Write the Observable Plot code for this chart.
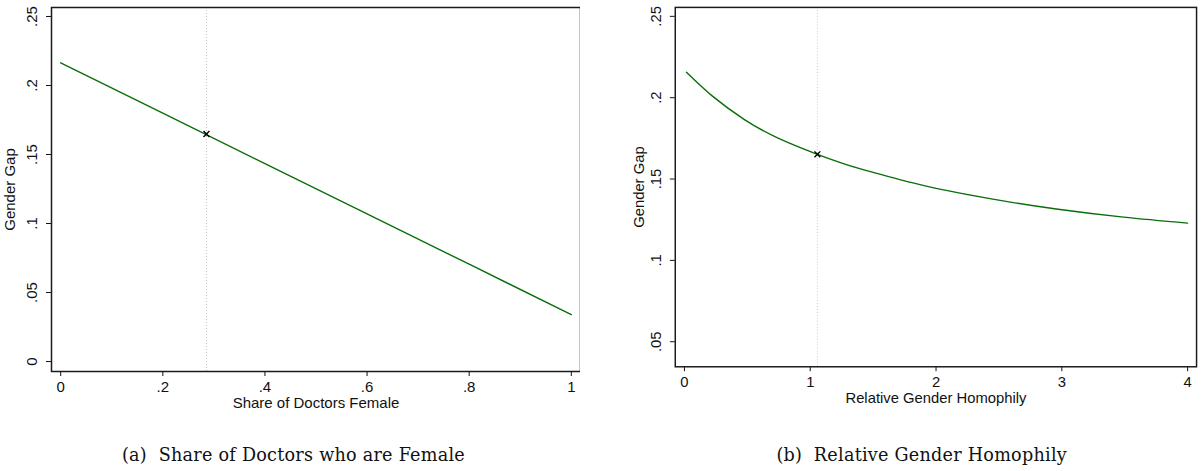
<!DOCTYPE html>
<html>
<head>
<meta charset="utf-8">
<script src="https://cdn.jsdelivr.net/npm/d3@7"></script>
<script src="https://cdn.jsdelivr.net/npm/@observablehq/plot@0.6"></script>
<style>
  html, body { margin: 0; padding: 0; background: #fff; }
  #wrap { position: relative; width: 1201px; height: 471px; overflow: hidden; background: #fff; }
  .panel { position: absolute; top: 0; }
  .cap { position: absolute; font-family: "DejaVu Serif", serif; font-size: 17.6px; line-height: 1; color: #111; white-space: pre; }
</style>
</head>
<body>
<div id="wrap">
  <div id="pa" class="panel" style="left:0px"></div>
  <div id="pb" class="panel" style="left:580px"></div>
  <span id="capA" class="cap">(a)  Share of Doctors who are Female</span>
  <span id="capB" class="cap">(b)  Relative Gender Homophily</span>
</div>
<script>
// ---- Panel (a): Share of doctors who are female ----
const shareX = [0, 0.2, 0.4, 0.6, 0.8, 1];
const gapA   = [0.2164, 0.1799, 0.1434, 0.1070, 0.0705, 0.0340];
const markA  = {x: 0.2855, y: 0.1648};
const xTicksA = [0, 0.2, 0.4, 0.6, 0.8, 1];
const yTicksA = [0, 0.05, 0.1, 0.15, 0.2, 0.25];
const xLabelA = "Share of Doctors Female";

// ---- Panel (b): Relative gender homophily ----
const homX = [0.016, 0.22, 0.48, 0.74, 1.057, 1.4, 1.79, 2.0, 2.44, 2.97, 3.49, 4.0];
const gapB = [0.2156, 0.2011, 0.1864, 0.1753, 0.1652, 0.1562, 0.1481, 0.1443, 0.1378, 0.1314, 0.1266, 0.1229];
const markB  = {x: 1.057, y: 0.1652};
const xTicksB = [0, 1, 2, 3, 4];
const yTicksB = [0.05, 0.1, 0.15, 0.2, 0.25];
const xLabelB = "Relative Gender Homophily";

const yLabel = "Gender Gap";
const lineColor = "#0a6e0a";

const fmt = d => d === 0 ? "0" : d3.format("~g")(d).replace(/^0\./, ".");

function panel(opts) {
  const rows = opts.xs.map((x, i) => ({x, y: opts.ys[i]}));
  return Plot.plot({
    width: opts.width, height: 415,
    marginLeft: opts.ml, marginRight: opts.mr, marginTop: 7, marginBottom: 44,
    x: {domain: opts.xd, label: null},
    y: {domain: opts.yd, label: null},
    style: {fontFamily: "'Liberation Sans', Arial, sans-serif", fontSize: "15px", background: "white", color: "#111", overflow: "visible"},
    marks: [
      Plot.ruleX([opts.mark.x], {stroke: "#c8c8c8", strokeWidth: 1, strokeDasharray: "1,2"}),
      Plot.line(rows, {x: "x", y: "y", stroke: lineColor, strokeWidth: 1.4, curve: opts.curve}),
      Plot.dot([opts.mark], {x: "x", y: "y", symbol: "times", r: 2.8, stroke: "#000", strokeWidth: 1.4}),
      Plot.axisX(opts.xt, {tickSize: 5, tickPadding: 5, tickFormat: fmt}),
      Plot.axisY(opts.yt, {tickSize: 5, tickFormat: () => ""}),
      Plot.text(opts.yt, {y: d => d, text: fmt, frameAnchor: "left", dx: -19, rotate: -90, textAnchor: "middle", lineAnchor: "middle"}),
      Plot.text([yLabel], {text: d => d, frameAnchor: "left", dx: opts.ylabDx, rotate: -90, textAnchor: "middle", lineAnchor: "middle"}),
      Plot.text([opts.xlab], {text: d => d, frameAnchor: "bottom", dy: 32, textAnchor: "middle", lineAnchor: "middle"}),
      Plot.frame({stroke: "#1a1a1a", strokeWidth: 1.5})
    ]
  });
}

document.getElementById("pa").appendChild(panel({
  xs: shareX, ys: gapA, mark: markA, xt: xTicksA, yt: yTicksA, xlab: xLabelA,
  width: 590, ml: 51, mr: 10, xd: [-0.018, 1.018], yd: [-0.0072, 0.2565],
  curve: "linear", ylabDx: -41.5
}));
document.getElementById("pb").appendChild(panel({
  xs: homX, ys: gapB, mark: markB, xt: xTicksB, yt: yTicksB, xlab: xLabelB,
  width: 629, ml: 96, mr: 5, xd: [-0.073, 4.071], yd: [0.0346, 0.2555],
  curve: "natural", ylabDx: -36.5
}));

// captions: fit (a) to its measured span, use same spacing for (b)
const capA = document.getElementById("capA");
const capB = document.getElementById("capB");
const targetA = 343;
const wA = capA.getBoundingClientRect().width;
const n = capA.textContent.length;
const ls = (targetA - wA) / n;
capA.style.letterSpacing = ls + "px";
capB.style.letterSpacing = ls + "px";
capA.style.left = "122px";
capA.style.top = "447px";
const wB = capB.getBoundingClientRect().width;
capB.style.left = (1067 - wB) + "px";
capB.style.top = "447px";
</script>
</body>
</html>
